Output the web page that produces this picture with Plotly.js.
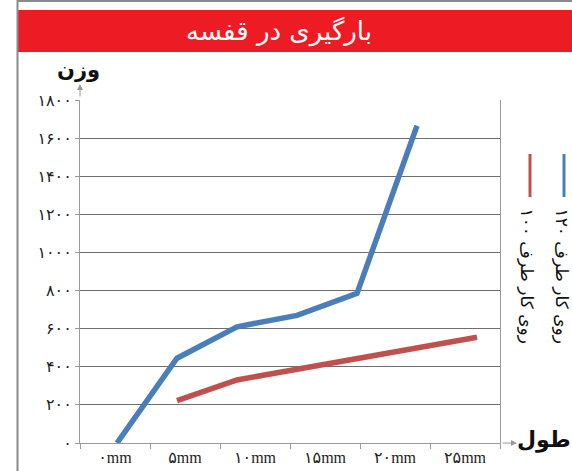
<!DOCTYPE html>
<html>
<head>
<meta charset="utf-8">
<script src="https://cdn.plot.ly/plotly-3.0.1.min.js"></script>
<style>html,body{margin:0;padding:0;background:#fff;}#chart{width:572px;height:471px;}</style>
</head>
<body>
<div id="chart"></div>
<script>
// ---- data ----
const chartTitle = 'بارگیری در قفسه';
const yTitle = 'وزن';
const xTitle = 'طول';
const categories = ['۰mm', '۵mm', '۱۰mm', '۱۵mm', '۲۰mm', '۲۵mm'];
const samplePositions = [0, 1, 2, 3, 4, 5, 6];
const series120 = [0, 445, 610, 670, 785, 1665, null];
const series100 = [null, 222, 331, 387, 443, 499, 555];
const seriesNames = ['روی کار طرف ۱۲۰', 'روی کار طرف ۱۰۰'];
const yTickVals = [0, 200, 400, 600, 800, 1000, 1200, 1400, 1600, 1800];
const yTickText = ['۰', '۲۰۰', '۴۰۰', '۶۰۰', '۸۰۰', '۱۰۰۰', '۱۲۰۰', '۱۴۰۰', '۱۶۰۰', '۱۸۰۰'];

// ---- style ----
const BLUE = '#4a7ebb';
const RED = '#c0504d';
const GRAY = '#9a9a9a';
const W = 572, H = 471;
const L = 80, R = 72, T = 100, B = 28;
const pw = W - L - R, ph = H - T - B;
const px = x => (x - L) / pw;              // pixel -> paper x
const py = y => (H - B - y) / ph;          // pixel -> paper y
const arabicFont = 'DejaVu Sans, sans-serif';

const traces = [
  {x: samplePositions, y: series120, name: seriesNames[0], xaxis: 'x2', yaxis: 'y',
   mode: 'lines', line: {color: BLUE, width: 5.5}, connectgaps: false, hoverinfo: 'skip'},
  {x: samplePositions, y: series100, name: seriesNames[1], xaxis: 'x2', yaxis: 'y',
   mode: 'lines', line: {color: RED, width: 5.5}, connectgaps: false, hoverinfo: 'skip'},
  // dummy trace to make the category axis exist
  {x: categories, y: categories.map(() => null), xaxis: 'x', yaxis: 'y',
   mode: 'lines', showlegend: false, hoverinfo: 'skip'}
];

const layout = {
  width: W, height: H,
  margin: {l: L, r: R, t: T, b: B, pad: 0},
  paper_bgcolor: '#fff', plot_bgcolor: '#fff',
  showlegend: false,
  title: {text: chartTitle, font: {family: arabicFont, size: 26, color: '#fff'},
          xref: 'container', yref: 'container', x: 279 / W, y: 1 - 31 / H,
          xanchor: 'center', yanchor: 'middle'},
  xaxis: {type: 'category', categoryarray: categories, range: [-0.5, 5.5],
          showgrid: false, zeroline: false, showline: true, linecolor: GRAY, linewidth: 1,
          ticks: 'outside', tickson: 'boundaries', ticklen: 5, tickcolor: GRAY,
          tickfont: {family: 'Liberation Serif, DejaVu Sans, serif', size: 16, color: '#222'},
          fixedrange: true},
  xaxis2: {overlaying: 'x', range: [(L - 117) / 60, (L + pw - 117) / 60], visible: false,
           fixedrange: true},
  yaxis: {range: [0, 1800], tickvals: yTickVals, ticktext: yTickText,
          showgrid: true, gridcolor: '#6e6e6e', gridwidth: 1, zeroline: false,
          showline: true, linecolor: GRAY, linewidth: 1, mirror: true,
          ticks: 'outside', ticklen: 4, tickcolor: GRAY,
          tickfont: {family: arabicFont, size: 16, color: '#222'}, fixedrange: true},
  shapes: [
    {type: 'rect', xref: 'paper', yref: 'paper', x0: px(17), x1: px(574), y0: py(52), y1: py(10),
     fillcolor: '#ed1c24', line: {width: 0}, layer: 'below'},
    {type: 'line', xref: 'paper', yref: 'paper', x0: px(17.5), x1: px(17.5), y0: py(0), y1: py(H),
     line: {color: '#8a8a8a', width: 2}},
    {type: 'line', xref: 'paper', yref: 'paper', x0: px(17), x1: px(W), y0: py(1), y1: py(1),
     line: {color: '#8a8a8a', width: 2}},
    {type: 'line', xref: 'paper', yref: 'paper', x0: px(564), x1: px(564), y0: py(154), y1: py(197),
     line: {color: BLUE, width: 3}},
    {type: 'line', xref: 'paper', yref: 'paper', x0: px(530), x1: px(530), y0: py(154), y1: py(197),
     line: {color: RED, width: 3}}
  ],
  annotations: [
    {xref: 'paper', yref: 'paper', x: 0, y: py(84), ax: 0, ay: 14, showarrow: true,
     arrowhead: 2, arrowsize: 1.2, arrowwidth: 1, arrowcolor: GRAY, text: ''},
    {xref: 'paper', yref: 'paper', x: px(517), y: 0, ax: -16, ay: 0, showarrow: true,
     arrowhead: 2, arrowsize: 1.2, arrowwidth: 1, arrowcolor: GRAY, text: ''},
    {xref: 'paper', yref: 'paper', x: px(78), y: py(70), showarrow: false, text: '<b>' + yTitle + '</b>',
     font: {family: arabicFont, size: 21, color: '#111'}, xanchor: 'center', yanchor: 'middle'},
    {xref: 'paper', yref: 'paper', x: px(544), y: py(440), showarrow: false, text: '<b>' + xTitle + '</b>',
     font: {family: arabicFont, size: 22, color: '#111'}, xanchor: 'center', yanchor: 'middle'},
    {xref: 'paper', yref: 'paper', x: px(562), y: py(206), showarrow: false, text: seriesNames[0],
     textangle: 90, font: {family: arabicFont, size: 17, color: '#111'}, xanchor: 'center', yanchor: 'top'},
    {xref: 'paper', yref: 'paper', x: px(527), y: py(206), showarrow: false, text: seriesNames[1],
     textangle: 90, font: {family: arabicFont, size: 17, color: '#111'}, xanchor: 'center', yanchor: 'top'}
  ]
};

Plotly.newPlot('chart', traces, layout, {staticPlot: true, displayModeBar: false});
</script>
</body>
</html>
